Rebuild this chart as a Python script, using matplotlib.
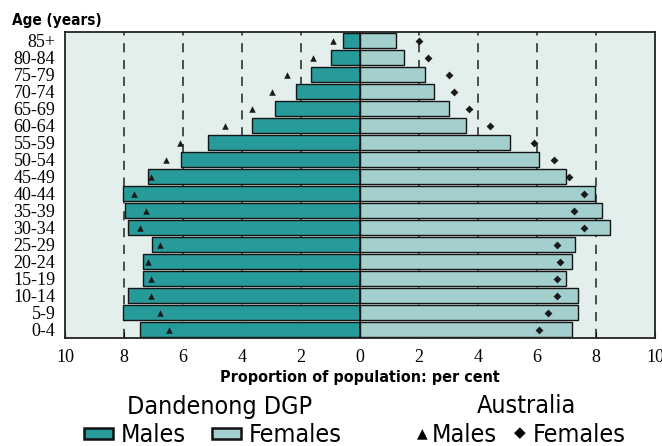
import matplotlib.pyplot as plt
from matplotlib.patches import Rectangle

ages = ["0-4", "5-9", "10-14", "15-19", "20-24", "25-29", "30-34", "35-39",
        "40-44", "45-49", "50-54", "55-59", "60-64", "65-69", "70-74",
        "75-79", "80-84", "85+"]
dgp_males = [7.45, 8.05, 7.85, 7.34, 7.34, 7.04, 7.85, 7.95, 8.05, 7.17,
             6.06, 5.16, 3.67, 2.87, 2.17, 1.67, 0.97, 0.58]
dgp_females = [7.18, 7.38, 7.38, 6.98, 7.18, 7.28, 8.48, 8.19, 7.97, 6.98,
               6.08, 5.1, 3.6, 3.0, 2.5, 2.2, 1.5, 1.21]
aus_males = [6.46, 6.77, 7.07, 7.07, 7.17, 6.77, 7.47, 7.27, 7.66, 7.07,
             6.57, 6.1, 4.58, 3.67, 2.99, 2.48, 1.6, 0.9]
aus_females = [6.08, 6.37, 6.68, 6.68, 6.78, 6.68, 7.58, 7.27, 7.58, 7.08,
               6.58, 5.9, 4.39, 3.7, 3.19, 3.0, 2.3, 2.0]
xticks = [-10, -8, -6, -4, -2, 0, 2, 4, 6, 8, 10]

male_col = "#279a9a"
female_col = "#a3cfce"
bg = "#e3efed"
cond = dict(family="DejaVu Sans", fontstretch="condensed")


def fx(px):
    return px / 662


def fy(py):
    return 1 - py / 446


def main():
    fig = plt.figure(figsize=(6.62, 4.46), dpi=100)
    ax = fig.add_axes([fx(65), fy(338), 590 / 662, 306 / 446])
    ax.set_facecolor(bg)
    y = list(range(len(ages)))

    for v in [-8, -6, -4, -2, 2, 4, 6, 8]:
        ax.axvline(v, color="#222222", lw=1.1, ls=(0, (6, 5)), zorder=1)

    ax.barh(y, [-m for m in dgp_males], height=0.94, color=male_col,
            edgecolor="#151515", lw=1.0, zorder=2)
    ax.barh(y, dgp_females, height=0.94, color=female_col,
            edgecolor="#151515", lw=1.0, zorder=2)
    ax.axvline(0, color="#111111", lw=1.3, zorder=3)
    ax.scatter([-m for m in aus_males], y, marker="^", s=22, color="#1a1a1a",
               zorder=4, lw=0)
    ax.scatter(aus_females, y, marker="D", s=16, color="#1a1a1a",
               zorder=4, lw=0)

    ax.set_xlim(-10, 10)
    ax.set_ylim(-0.5, len(ages) - 0.5)
    ax.set_yticks(y)
    ax.set_yticklabels(ages, family="Liberation Serif", fontsize=13)
    ax.set_xticks(xticks)
    ax.set_xticklabels([str(abs(t)) for t in xticks],
                       family="Liberation Serif", fontsize=13)
    ax.tick_params(axis="y", length=0, pad=7)
    ax.tick_params(axis="x", direction="in", length=4, pad=8)
    for s in ax.spines.values():
        s.set_linewidth(1.3)
        s.set_color("#222222")
    ax.set_xlabel("Proportion of population: per cent", fontsize=11.5,
                  fontweight="bold", labelpad=3, **cond)
    fig.text(fx(12), fy(20), "Age (years)", fontsize=11,
             fontweight="bold", va="center", ha="left", **cond)

    # legend drawn by hand underneath
    fig.text(fx(220), fy(414), "Dandenong DGP", fontsize=18,
             ha="center", va="baseline", **cond)
    fig.text(fx(526), fy(413), "Australia", fontsize=18,
             ha="center", va="baseline", **cond)
    ly = fy(442)
    fig.add_artist(Rectangle((fx(84), fy(439)), 29 / 662, 11 / 446,
                             transform=fig.transFigure, facecolor=male_col,
                             edgecolor="#111111", lw=1.8))
    fig.text(fx(121), ly, "Males", fontsize=18, va="baseline", **cond)
    fig.add_artist(Rectangle((fx(212), fy(439)), 29 / 662, 11 / 446,
                             transform=fig.transFigure, facecolor=female_col,
                             edgecolor="#111111", lw=1.8))
    fig.text(fx(249), ly, "Females", fontsize=18, va="baseline", **cond)
    fig.text(fx(422), fy(433), "\u25b2", fontsize=10, va="center",
             ha="center")
    fig.text(fx(432), ly, "Males", fontsize=18, va="baseline", **cond)
    fig.text(fx(520), fy(433), "\u25c6", fontsize=11, va="center",
             ha="center")
    fig.text(fx(533), ly, "Females", fontsize=18, va="baseline", **cond)

    fig.savefig("out.png", dpi=100)


if __name__ == "__main__":
    main()
